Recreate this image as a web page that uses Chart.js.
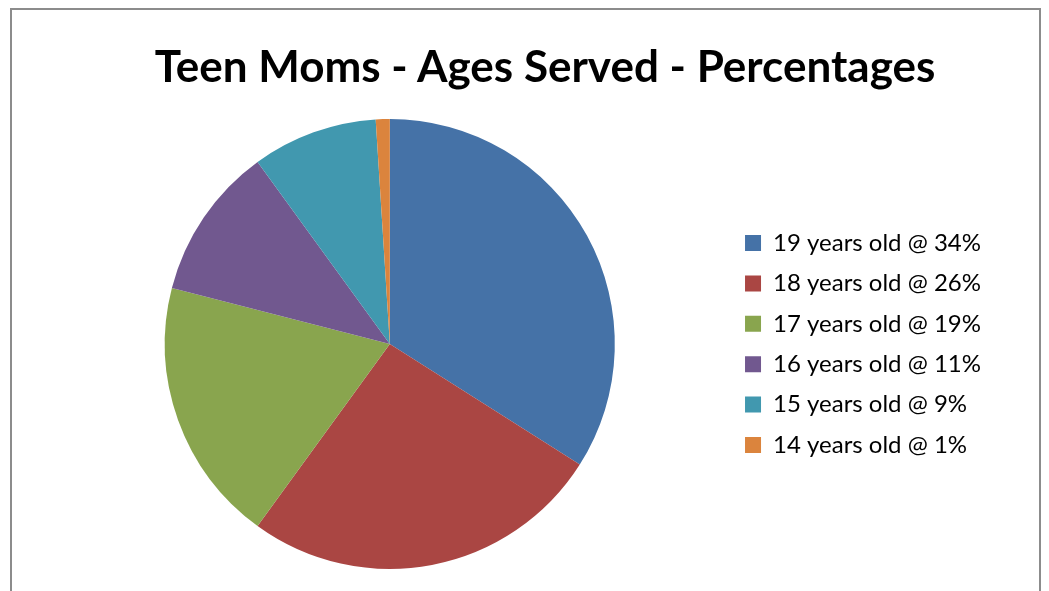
<!DOCTYPE html>
<html>
<head>
<meta charset="utf-8">
<script src="https://cdn.jsdelivr.net/npm/chart.js@4"></script>
<style>
  html, body { margin: 0; padding: 0; background: #fff; }
  #wrap { position: relative; width: 1049px; height: 591px; overflow: hidden; }
  #frame { position: absolute; left: 10px; top: 8px; width: 1031px; height: 620px; border: 2px solid #8c8c8c; box-sizing: border-box; }
  #title { position: absolute; left: 0; width: 1090px; top: 39px; text-align: center; font: bold 44px Lato, sans-serif; line-height: 1.2; color: #000; }
  canvas { position: absolute; left: 0; top: 0; }
</style>
</head>
<body>
<div id="wrap">
  <div id="frame"></div>
  <canvas id="myChart" width="1049" height="591"></canvas>
  <div id="title">Teen Moms - Ages Served - Percentages</div>
</div>
<script>
const labels = ['19 years old @ 34%', '18 years old @ 26%', '17 years old @ 19%', '16 years old @ 11%', '15 years old @ 9%', '14 years old @ 1%'];
const values = [34, 26, 19, 11, 9, 1];
const colors = ['#4572A7', '#AA4643', '#89A54E', '#71588F', '#4198AF', '#DB843D'];

const ctx = document.getElementById('myChart').getContext('2d');
new Chart(ctx, {
    type: 'pie',
    data: {
        labels: labels,
        datasets: [{
            data: values,
            backgroundColor: colors,
            borderWidth: 0
        }]
    },
    options: {
        responsive: false,
        animation: false,
        layout: { padding: { left: 51, right: 58, top: 119, bottom: 22 } },
        plugins: {
            title: { display: false },
            legend: {
                position: 'right',
                labels: {
                    color: '#000',
                    font: { family: 'Lato', size: 24 },
                    boxWidth: 16,
                    boxHeight: 16,
                    padding: 16.4
                }
            },
            tooltip: { enabled: false }
        }
    }
});
</script>
</body>
</html>
